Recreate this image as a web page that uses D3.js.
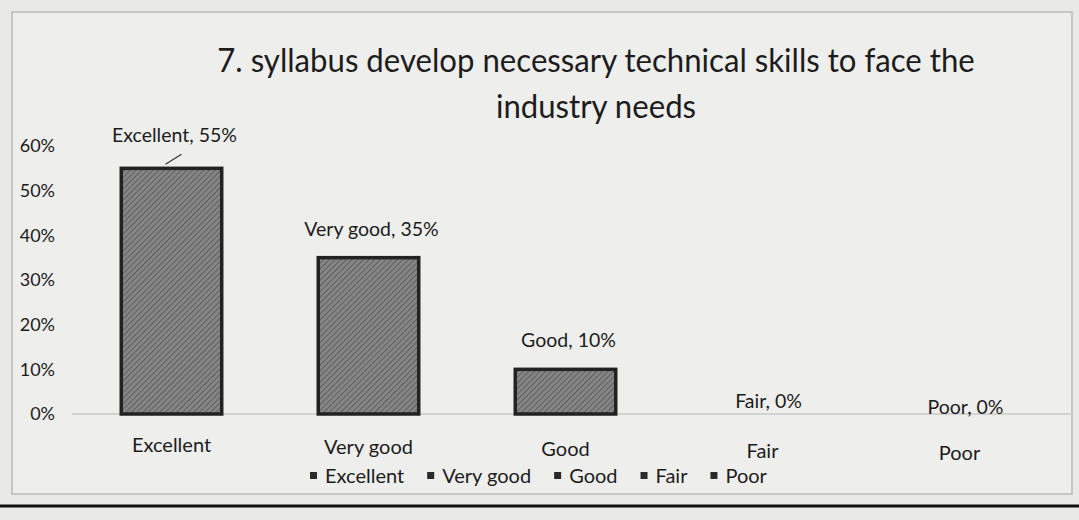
<!DOCTYPE html>
<html lang="en">
<head>
    <meta charset="UTF-8">
    <title>7. syllabus develop necessary technical skills to face the industry needs</title>
    <script src="https://d3js.org/d3.v7.min.js"></script>
    <style>
        body { margin: 0; background: #e9e9e7; }
        text { font-family: Lato, "Open Sans", sans-serif; fill: #1c1c1c; }
        .tick text { font-size: 18px; }
        .title { font-size: 33px; }
        .dlabel { font-size: 19.5px; }
        .cat, .legend text { font-size: 20px; }
    </style>
</head>
<body>
    <svg width="1079" height="520"></svg>
    <script>
        // data
        const categories = ["Excellent", "Very good", "Good", "Fair", "Poor"];
        const values = [0.55, 0.35, 0.10, 0, 0];
        const yTicks = [0, 0.1, 0.2, 0.3, 0.4, 0.5, 0.6];
        const titleLines = ["7. syllabus develop necessary technical skills to face the", "industry needs"];

        const width = 1079, height = 520;
        const margin = {top: 146, right: 20, bottom: 106, left: 72};

        const svg = d3.select("svg");

        // chart frame
        svg.append("rect")
            .attr("x", 12).attr("y", 12)
            .attr("width", 1060).attr("height", 482)
            .attr("fill", "#eeeeec")
            .attr("stroke", "#b9b9b9")
            .attr("stroke-width", 1.5);

        const x = d3.scaleBand()
            .domain(categories)
            .range([margin.left, width - margin.right])
            .paddingInner(0.49)
            .paddingOuter(0.25);

        const y = d3.scaleLinear()
            .domain([0, 0.6])
            .range([height - margin.bottom, margin.top]);

        // title, squeezed sideways like the narrow original face
        const title = svg.append("g");
        title.selectAll("text")
            .data(titleLines)
            .join("text")
            .attr("class", "title")
            .attr("x", 0)
            .attr("y", (d, i) => 72 + i * 46)
            .attr("text-anchor", "middle")
            .text(d => d);
        const w0 = title.select("text").node().getComputedTextLength();
        title.attr("transform", `translate(596,0) scale(${758 / w0},1)`);

        // y axis, labels only
        const yAxis = svg.append("g")
            .attr("transform", `translate(${margin.left - 14},0)`)
            .call(d3.axisLeft(y).tickValues(yTicks).tickFormat(d3.format(".0%")).tickSize(0));
        yAxis.select(".domain").remove();
        yAxis.selectAll(".tick text").attr("fill", "#2a2a2a");

        // base line
        svg.append("line")
            .attr("x1", margin.left).attr("x2", width - 8)
            .attr("y1", y(0)).attr("y2", y(0))
            .attr("stroke", "#b5b5b5")
            .attr("stroke-width", 1.2);

        // hatched bar fill
        const defs = svg.append("defs");
        const pat = defs.append("pattern")
            .attr("id", "hatch")
            .attr("patternUnits", "userSpaceOnUse")
            .attr("width", 4).attr("height", 4)
            .attr("patternTransform", "rotate(45)");
        pat.append("rect").attr("width", 4).attr("height", 4).attr("fill", "#858585");
        pat.append("line")
            .attr("x1", 0).attr("y1", 0).attr("x2", 0).attr("y2", 4)
            .attr("stroke", "#474747").attr("stroke-width", 1.2);

        svg.selectAll("rect.bar")
            .data(categories)
            .join("rect")
            .attr("class", "bar")
            .attr("x", d => x(d))
            .attr("y", (d, i) => y(values[i]))
            .attr("width", x.bandwidth())
            .attr("height", (d, i) => y(0) - y(values[i]))
            .attr("fill", "url(#hatch)")
            .attr("stroke", "#222")
            .attr("stroke-width", 3.5);

        // data labels
        svg.selectAll("text.dlabel")
            .data(categories)
            .join("text")
            .attr("class", "dlabel")
            .attr("x", (d, i) => x(d) + x.bandwidth() / 2 + (values[i] === 0 ? 6 : 3))
            .attr("y", (d, i) => values[i] === 0 ? y(0) - 6 + (i - 3) * 6 : y(values[i]) - (i === 0 ? 26 : 22))
            .attr("text-anchor", "middle")
            .text((d, i) => `${d}, ${d3.format(".0%")(values[i])}`);

        // leader line for the first label
        svg.append("line")
            .attr("x1", x(categories[0]) + x.bandwidth() / 2 - 6)
            .attr("y1", y(values[0]) - 4)
            .attr("x2", x(categories[0]) + x.bandwidth() / 2 + 10)
            .attr("y2", y(values[0]) - 14)
            .attr("stroke", "#333")
            .attr("stroke-width", 1.2);

        // category labels
        svg.selectAll("text.cat")
            .data(categories)
            .join("text")
            .attr("class", "cat")
            .attr("x", d => x(d) + x.bandwidth() / 2)
            .attr("y", (d, i) => y(0) + 38 + i * 2)
            .attr("text-anchor", "middle")
            .text(d => d);

        // legend
        const legend = svg.append("g").attr("class", "legend");
        let lx = 310;
        categories.forEach(c => {
            const g = legend.append("g").attr("transform", `translate(${lx},483)`);
            g.append("rect").attr("x", 0).attr("y", -11).attr("width", 7).attr("height", 7).attr("fill", "#2a2a2a");
            const t = g.append("text").attr("x", 15).attr("y", 0).text(c);
            lx += 15 + t.node().getComputedTextLength() + 23;
        });

        // rule under the figure on the page
        svg.append("line")
            .attr("x1", 0).attr("x2", width)
            .attr("y1", 506).attr("y2", 506)
            .attr("stroke", "#111")
            .attr("stroke-width", 3);
    </script>
</body>
</html>
